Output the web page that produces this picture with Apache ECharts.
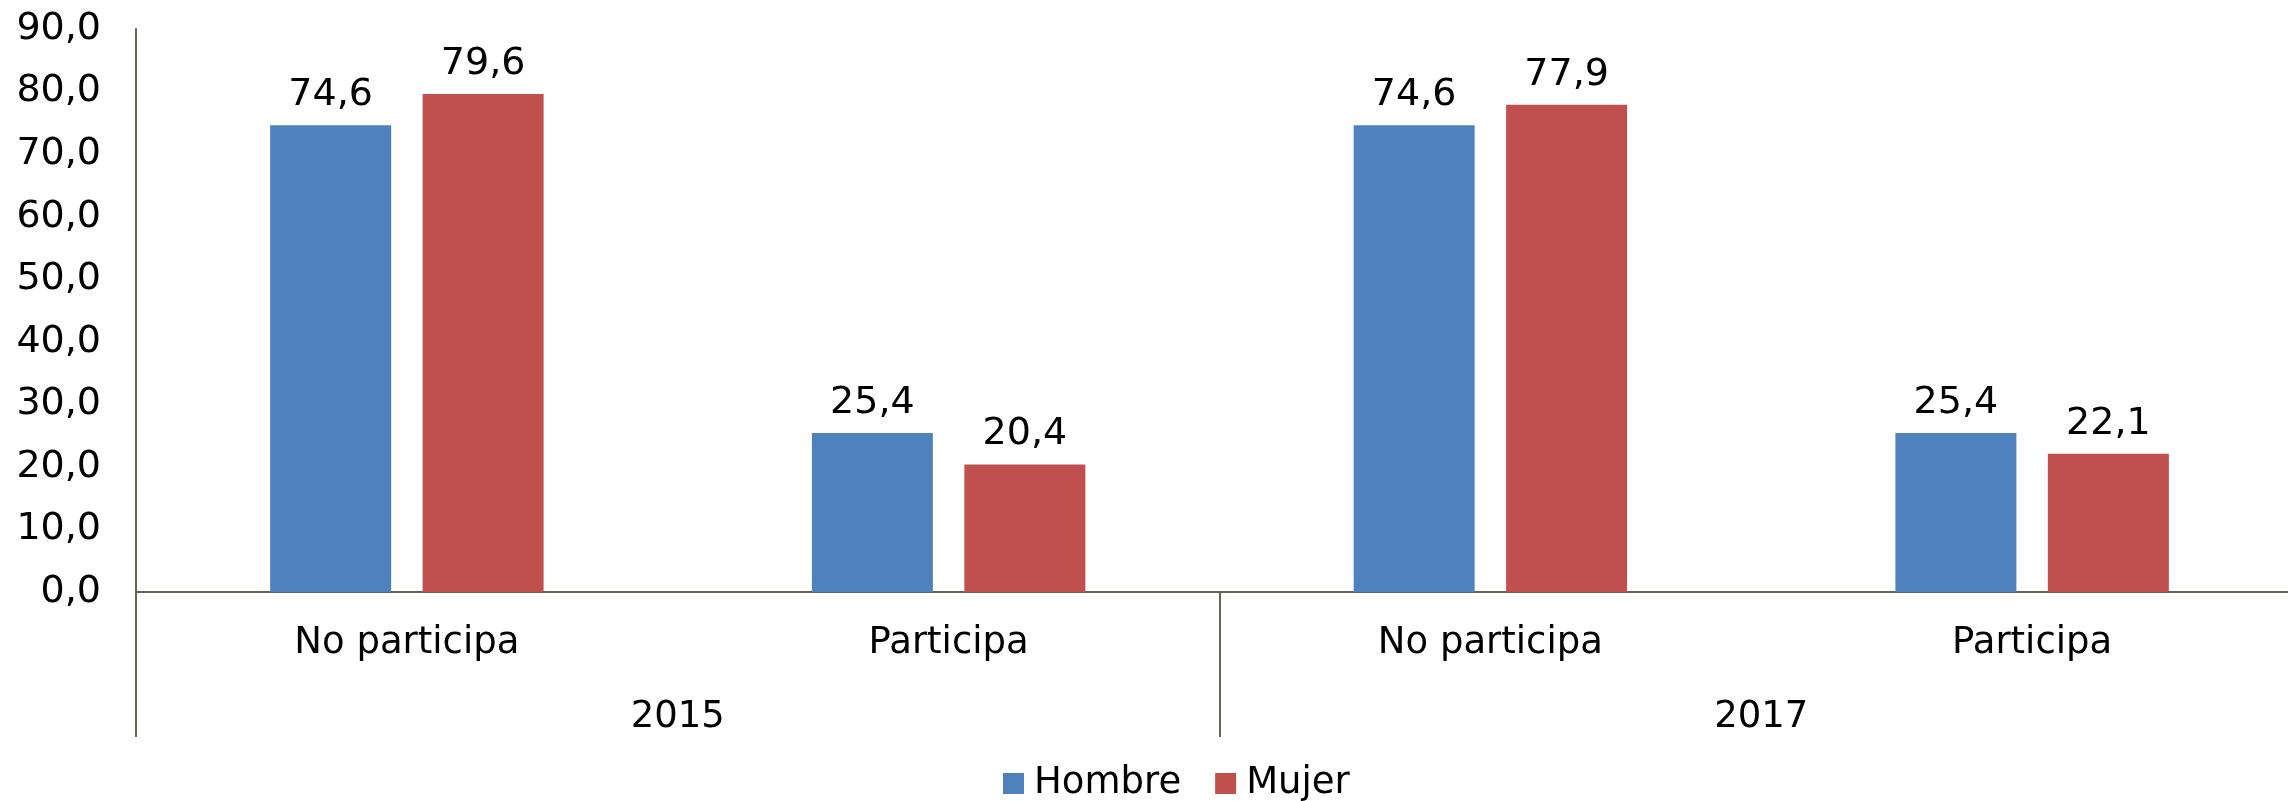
<!DOCTYPE html>
<html>
<head>
<meta charset="utf-8">
<script src="https://cdn.jsdelivr.net/npm/echarts@6/dist/echarts.min.js"></script>
<style>
  html, body { margin: 0; padding: 0; background: #fff; }
  #chart { width: 2288px; height: 801px; }
</style>
</head>
<body>
<div id="chart"></div>
<script>
// datos
const categories = ["No participa", "Participa", "No participa", "Participa"];
const years = ["2015", "2017"];
const hombre = [74.6, 25.4, 74.6, 25.4];
const mujer = [79.6, 20.4, 77.9, 22.1];
const yMin = 0, yMax = 90, yStep = 10;

const fmt = (v) => Number(v).toFixed(1).replace(".", ",");
const font = "DejaVu Sans";
const axisColor = "#686252";

const myChart = echarts.init(document.getElementById("chart"));

const option = {
  animation: false,
  textStyle: { fontFamily: font },
  // el área de trazado sigue un poco más allá del borde derecho
  grid: {
    left: 136,
    width: 2167,
    top: 29,
    bottom: 209,
    containLabel: false,
    outerBoundsMode: "none",
  },
  legend: {
    data: ["Hombre", "Mujer"],
    left: 998,
    top: 760,
    icon: "rect",
    itemWidth: 21,
    itemHeight: 21,
    itemGap: 34,
    textStyle: { fontFamily: font, fontSize: 37, color: "#000", padding: [0, 0, 0, 5] },
  },
  xAxis: [
    {
      type: "category",
      data: categories,
      position: "bottom",
      axisLine: { show: true, lineStyle: { color: axisColor, width: 2 } },
      axisTick: { show: false },
      axisLabel: { fontFamily: font, fontSize: 37, color: "#000", margin: 33, interval: 0 },
    },
    {
      type: "category",
      data: years,
      position: "bottom",
      offset: 145,
      axisLine: { show: false },
      axisTick: {
        show: true,
        inside: true,
        length: 145,
        interval: 0,
        lineStyle: { color: axisColor, width: 2 },
      },
      axisLabel: { inside: true, fontFamily: font, fontSize: 37, color: "#000", margin: 1, interval: 0 },
    },
  ],
  yAxis: {
    type: "value",
    min: yMin,
    max: yMax,
    interval: yStep,
    axisLine: { show: true, lineStyle: { color: axisColor, width: 2 } },
    axisTick: { show: false },
    splitLine: { show: false },
    axisLabel: {
      fontFamily: font,
      fontSize: 38,
      color: "#000",
      margin: 35,
      formatter: fmt,
    },
  },
  series: [
    {
      name: "Hombre",
      type: "bar",
      xAxisIndex: 0,
      data: hombre,
      barWidth: 121,
      barGap: "26%",
      itemStyle: { color: "#4F81BD" },
      label: {
        show: true,
        position: "top",
        distance: 11,
        fontFamily: font,
        fontSize: 38,
        color: "#000",
        formatter: (p) => fmt(p.value),
      },
    },
    {
      name: "Mujer",
      type: "bar",
      xAxisIndex: 0,
      data: mujer,
      barWidth: 121,
      barGap: "26%",
      itemStyle: { color: "#C0504D" },
      label: {
        show: true,
        position: "top",
        distance: 11,
        fontFamily: font,
        fontSize: 38,
        color: "#000",
        formatter: (p) => fmt(p.value),
      },
    },
  ],
};

option && myChart.setOption(option);
</script>
</body>
</html>
